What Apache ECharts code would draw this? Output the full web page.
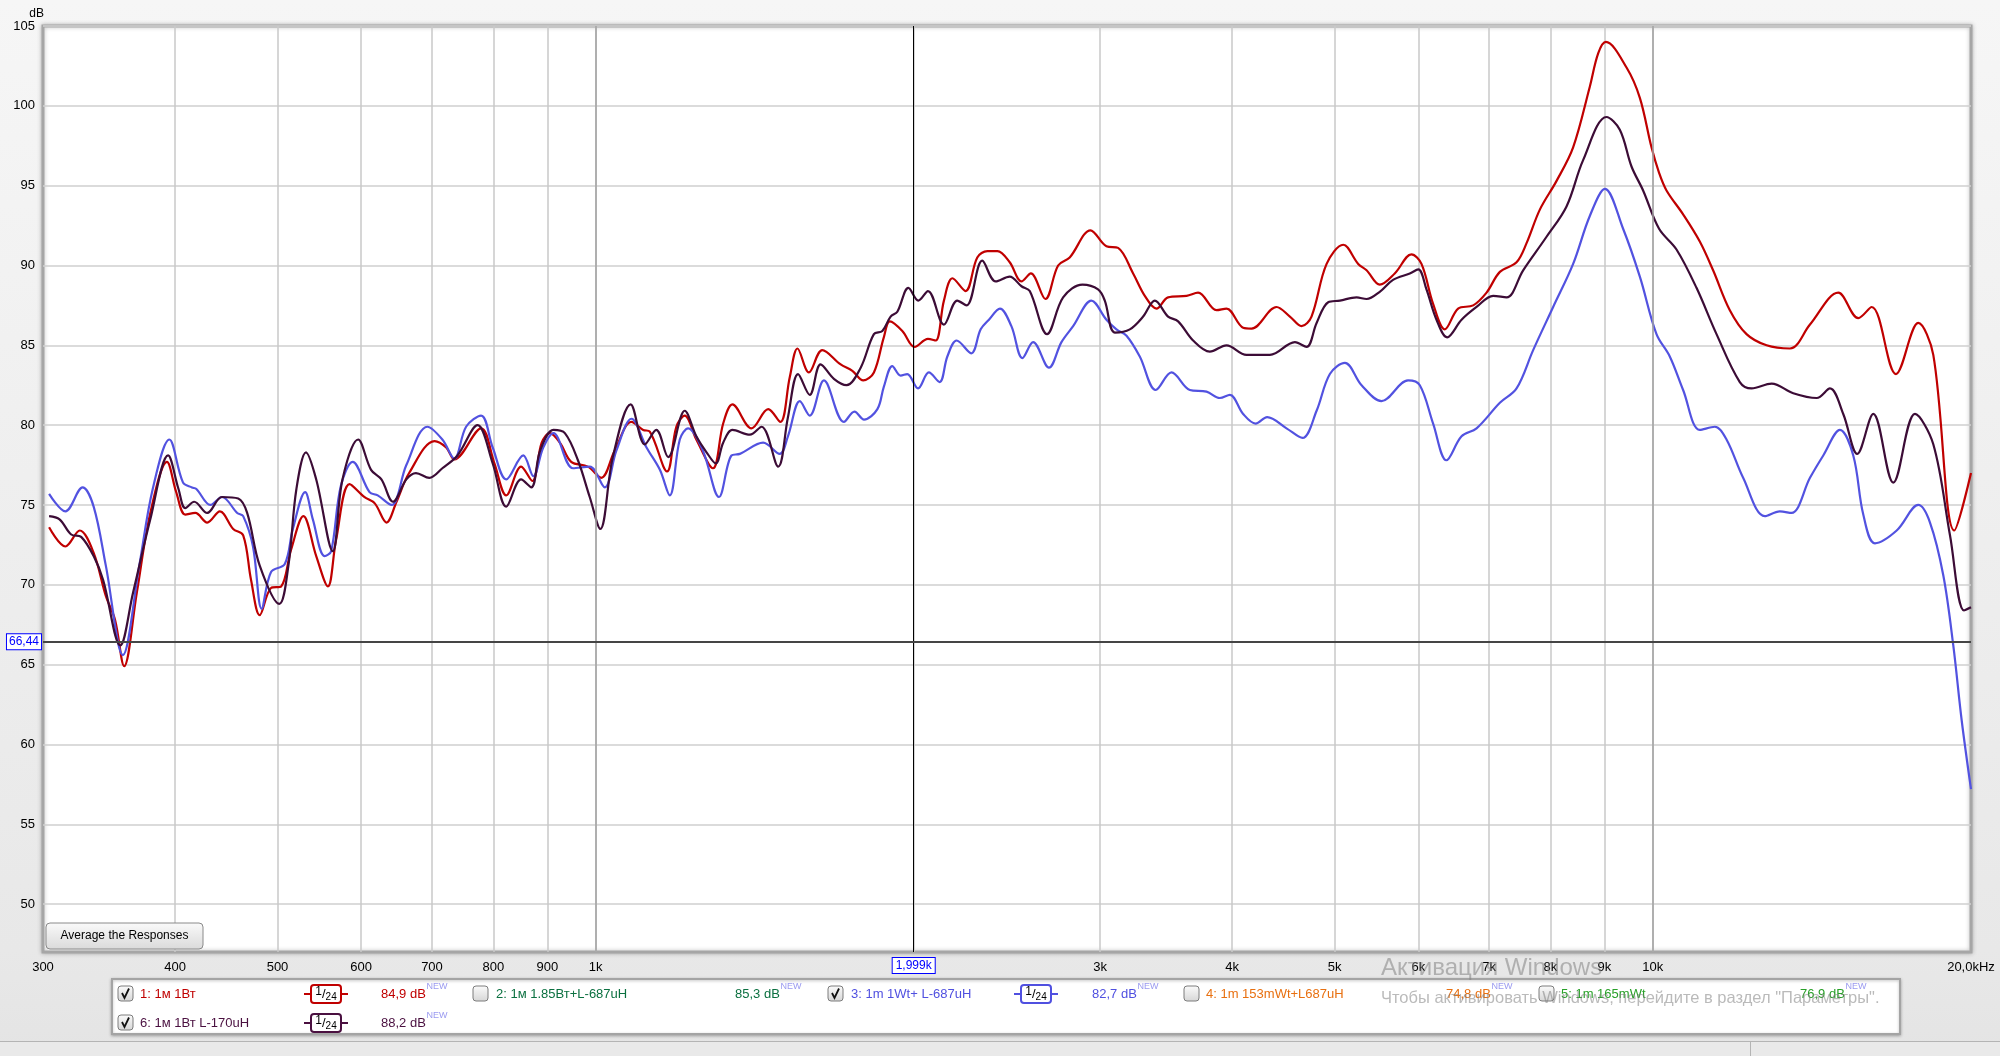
<!DOCTYPE html>
<html>
<head>
<meta charset="utf-8">
<script src="https://cdn.jsdelivr.net/npm/echarts@6/dist/echarts.min.js"></script>
<style>
html,body{margin:0;padding:0;background:#ececec;}
#chart{width:2000px;height:1056px;}
</style>
</head>
<body>
<div id="chart"></div>
<script>
const FONT = '"Liberation Sans", Arial, sans-serif';

// ---- data: trace 1 (red) ----
const redFreq = [304,315,325,335,344,351,358,368,379,393,401,409,418,429,441,454,464,472,481,493,504,515,529,544,558,568,585,604,618,634,648,666,704,722,735,779,802,823,850,871,889,905,925,948,983,1012,1042,1081,1109,1125,1168,1192,1214,1245,1291,1320,1347,1404,1456,1495,1526,1552,1591,1638,1705,1749,1791,1833,1873,1898,1950,2003,2062,2097,2135,2175,2238,2296,2347,2399,2464,2528,2580,2663,2738,2808,2938,3042,3120,3224,3307,3392,3479,3622,3714,3866,3951,4097,4173,4406,4536,4653,4755,4914,5095,5264,5361,5517,5700,5912,6042,6197,6357,6544,6762,6962,7167,7432,7596,7819,8109,8407,8718,8880,9028,9444,9722,9972,10138,10303,10683,11078,11404,11827,12265,12812,13482,14083,14979,15646,16109,16984,17830,18423,19285,20000];
const redDb = [73.6,72.4,73.4,72.0,69.3,67.8,64.9,69.5,74.5,77.7,75.8,74.4,74.5,73.9,74.6,73.5,73.1,70.3,68.1,69.8,69.9,72.2,74.3,71.8,69.9,72.8,76.3,75.5,75.1,73.9,75.2,77.0,79.0,78.6,77.85,79.8,77.6,75.6,77.4,76.5,78.9,79.5,78.9,77.7,77.4,76.7,78.4,80.2,79.7,79.6,77.1,79.9,80.6,79.1,77.3,80.1,81.3,79.8,81.0,80.2,83.0,84.8,83.3,84.7,83.8,83.4,82.8,83.3,85.5,86.5,85.9,84.9,85.4,85.3,87.8,89.2,88.4,90.5,90.9,90.9,90.2,89.0,89.5,87.9,90.0,90.5,92.2,91.2,91.1,89.5,88.1,87.3,88.0,88.1,88.3,87.2,87.3,86.1,86.05,87.4,86.8,86.2,86.8,90.1,91.3,90.1,89.7,88.8,89.5,90.7,90.1,87.6,86.0,87.3,87.5,88.3,89.6,90.2,91.4,93.5,95.3,97.4,101.2,103.3,104.0,102.4,100.5,97.4,95.8,94.7,93.2,91.5,89.7,87.2,85.7,85.0,84.8,86.3,88.3,86.7,87.4,83.2,86.4,84.4,73.4,77.0];

// ---- data: trace 3 (blue) ----
const blueFreq = [304,315,327,335,344,357,370,381,395,407,415,419,432,443,458,464,474,483,493,508,517,531,540,554,562,574,589,611,622,641,662,693,716,735,754,779,799,823,854,873,892,912,952,987,1020,1046,1081,1117,1150,1175,1201,1223,1263,1308,1344,1369,1440,1493,1520,1560,1594,1644,1717,1757,1794,1847,1873,1908,1943,1971,2018,2066,2115,2151,2195,2266,2313,2355,2412,2473,2533,2593,2684,2758,2829,2944,3042,3109,3178,3271,3387,3505,3648,3783,3894,3980,4097,4210,4317,4503,4663,4808,4949,5114,5303,5538,5868,6020,6197,6380,6593,6812,7167,7432,7706,8049,8407,8718,9010,9374,9722,10081,10377,10683,11078,11447,11742,12175,12764,13188,13529,14083,14497,15034,15476,15817,16225,17011,17830,18291,18828,19243,19599,20000];
const blueDb = [75.7,74.6,76.1,74.9,71.2,65.6,71.2,76.0,79.1,76.4,76.1,76.0,75.0,75.5,74.5,74.3,72.4,68.5,70.8,71.3,73.5,75.8,74.1,71.8,72.1,76.2,77.7,75.8,75.6,75.0,77.5,79.9,79.1,77.9,79.9,80.6,78.6,76.6,78.1,76.8,78.6,79.5,77.3,77.4,76.1,78.4,80.4,78.6,77.2,75.6,79.1,79.8,78.4,75.5,78.1,78.2,78.9,78.2,79.3,81.5,80.6,82.8,80.2,80.85,80.35,81.0,82.4,83.7,83.1,83.2,82.3,83.3,82.7,84.3,85.3,84.5,86.0,86.6,87.3,86.2,84.2,85.2,83.6,85.2,86.2,87.8,86.6,86.0,85.6,84.3,82.2,83.3,82.2,82.1,81.7,81.9,80.7,80.1,80.5,79.8,79.2,80.9,83.2,83.9,82.5,81.5,82.8,82.5,80.1,77.8,79.3,79.8,81.4,82.3,84.7,87.4,90.1,93.1,94.8,92.3,89.3,85.7,84.3,82.2,79.7,79.9,79.1,76.7,74.3,74.6,74.5,76.7,78.1,79.7,78.1,74.4,72.6,73.4,75.0,73.9,70.6,66.2,61.5,57.2];

// ---- data: trace 6 (dark) ----
const darkFreq = [304,311,319,326,335,342,355,365,379,394,403,409,417,429,443,459,468,481,502,512,521,532,544,564,576,596,613,627,643,662,676,696,716,740,773,799,823,850,869,886,912,935,962,987,1010,1038,1079,1113,1141,1171,1214,1245,1273,1299,1320,1347,1399,1435,1488,1520,1554,1594,1632,1680,1727,1781,1833,1867,1901,1929,1976,2019,2062,2135,2198,2243,2321,2390,2464,2528,2574,2673,2768,2887,2987,3031,3098,3201,3295,3380,3479,3556,3674,3810,3951,4127,4343,4586,4704,4808,4931,5058,5245,5361,5517,5679,5890,6000,6108,6243,6389,6593,6812,7063,7272,7540,7934,8287,8592,9041,9307,9547,9791,10138,10530,10999,11489,12087,12400,12955,13579,14289,14709,15142,15611,16165,16885,17703,18423,19105,19697,20000];
const darkDb = [74.3,74.1,73.15,73.0,71.8,70.3,66.2,69.5,74.1,78.1,76.0,74.8,75.2,74.5,75.5,75.4,74.5,71.2,68.8,71.2,76.0,78.3,76.6,72.1,76.6,79.1,77.2,76.6,75.2,76.6,77.0,76.7,77.3,78.1,80.0,77.6,74.9,76.6,76.1,78.4,79.7,79.5,77.8,75.5,73.5,78.0,81.3,78.8,79.7,78.0,80.9,79.3,78.3,77.6,78.9,79.7,79.4,79.9,77.4,80.5,83.2,81.9,83.8,82.9,82.5,83.6,85.7,85.9,86.8,87.1,88.6,87.8,88.4,86.3,87.8,87.5,90.3,89.0,89.3,88.7,88.4,85.7,88.0,88.8,88.5,87.8,85.8,86.0,86.8,87.8,86.8,86.5,85.3,84.6,85.0,84.4,84.4,85.2,84.9,86.4,87.7,87.8,88.0,87.9,88.35,89.1,89.5,89.75,88.5,86.6,85.5,86.6,87.4,88.1,88.0,89.7,91.8,93.7,96.6,99.3,98.5,96.2,94.7,92.3,91.0,88.6,85.7,82.7,82.3,82.6,82.0,81.7,82.3,80.7,78.2,80.7,76.4,80.7,78.8,73.1,68.4,68.6];

// ---- axes ----
const xGridValues = [400,500,600,700,800,900,1000,2000,3000,4000,5000,6000,7000,8000,9000,10000];
const xLabelValues = [300,400,500,600,700,800,900,1000,3000,4000,5000,6000,7000,8000,9000,10000,20000];
const xLabelTexts = ['300','400','500','600','700','800','900','1k','3k','4k','5k','6k','7k','8k','9k','10k','20,0kHz'];
const yTickValues = [50,55,60,65,70,75,80,85,90,95,100,105];
const majorFreqs = [1000, 10000];
const cursorFreq = 1999;
const cursorDb = 66.44;

// ---- legend text ----
const legendLabels = ['1: 1м 1Вт','2: 1м 1.85Вт+L-687uH','3: 1m 1Wt+ L-687uH','4: 1m 153mWt+L687uH','5: 1m 165mWt','6: 1м 1Вт L-170uH'];
const legendLevels = ['84,9 dB','85,3 dB','82,7 dB','74,8 dB','76,9 dB','88,2 dB'];
const legendColors = ['#c00000','#0b7040','#5050e0','#e87010','#28a028','#4a1040'];
const legendChecked = [true,false,true,false,false,true];
const legendSmoothing = ['1/24',null,'1/24',null,null,'1/24'];

const RED = '#c00000', BLUE = '#5252e0', DARK = '#3c0c36';

function pairs(f, d) { return f.map((v, i) => [v, d[i]]); }

// layout slots for the legend panel
const slots = [
  {cb:118, row:0, label:140, badge:304, level:381},
  {cb:473, row:0, label:496, badge:null, level:735},
  {cb:828, row:0, label:851, badge:1014, level:1092},
  {cb:1184, row:0, label:1206, badge:null, level:1446},
  {cb:1539, row:0, label:1561, badge:null, level:1800},
  {cb:118, row:1, label:140, badge:304, level:381}
];
const rowY = [994, 1023];

const graphics = [];
graphics.push({type:'rect', z:-100, silent:true, shape:{x:0,y:0,width:2000,height:1056},
  style:{fill:{type:'linear',x:0,y:0,x2:0,y2:1,colorStops:[{offset:0,color:'#f6f6f6'},{offset:0.9,color:'#e8e8e8'},{offset:1,color:'#e4e4e4'}]}}});
graphics.push({type:'rect', z:-99, silent:true, shape:{x:0,y:1041,width:2000,height:15}, style:{fill:'#e9e9e9'}});
graphics.push({type:'line', z:-98, silent:true, shape:{x1:0,y1:1041.5,x2:2000,y2:1041.5}, style:{stroke:'#b4b4b4',lineWidth:1}});
graphics.push({type:'line', z:-98, silent:true, shape:{x1:1750.5,y1:1042,x2:1750.5,y2:1056}, style:{stroke:'#b4b4b4',lineWidth:1}});

graphics.push({type:'rect', z:10, silent:true, shape:{x:112,y:979,width:1788,height:55},
  style:{fill:'#ffffff', stroke:'#a4a4a4', lineWidth:2, shadowBlur:3, shadowColor:'rgba(0,0,0,0.25)', shadowOffsetY:1}});

function checkbox(x, y, checked) {
  const out = [{type:'rect', z:11, silent:true, shape:{x:x,y:y,width:15,height:15,r:3},
    style:{fill:{type:'linear',x:0,y:0,x2:0,y2:1,colorStops:[{offset:0,color:'#fbfbfb'},{offset:1,color:'#d6d6d6'}]}, stroke:'#7c7c7c', lineWidth:1}}];
  if (checked) {
    out.push({type:'polyline', z:12, silent:true, shape:{points:[[x+4,y+7],[x+6.5,y+12],[x+11,y+2.5]]},
      style:{stroke:'#111', lineWidth:1.8, fill:null}});
  }
  return out;
}
function badge(x, yc, color) {
  return [
    {type:'line', z:11, silent:true, shape:{x1:x,y1:yc,x2:x+7,y2:yc}, style:{stroke:color,lineWidth:2}},
    {type:'line', z:11, silent:true, shape:{x1:x+37,y1:yc,x2:x+44,y2:yc}, style:{stroke:color,lineWidth:2}},
    {type:'rect', z:11, silent:true, shape:{x:x+7,y:yc-9,width:30,height:18,r:3}, style:{fill:'#fff', stroke:color, lineWidth:2}},
    {type:'text', z:12, silent:true, x:x+22, y:yc, style:{text:'{a|1}{s|/}{b|24}', align:'center', verticalAlign:'middle',
      rich:{a:{fontSize:12,fontFamily:FONT,fill:'#000',verticalAlign:'top',lineHeight:16},
            s:{fontSize:13,fontFamily:FONT,fill:'#000',lineHeight:16},
            b:{fontSize:10,fontFamily:FONT,fill:'#000',verticalAlign:'bottom',lineHeight:16}}}}
  ];
}
legendLabels.forEach((lab, i) => {
  const s = slots[i], yc = rowY[s.row];
  checkbox(s.cb, yc - 8, legendChecked[i]).forEach(g => graphics.push(g));
  graphics.push({type:'text', z:12, silent:true, x:s.label, y:yc, style:{text:lab, fill:legendColors[i], fontSize:13, fontFamily:FONT, verticalAlign:'middle'}});
  if (legendSmoothing[i] && s.badge !== null) badge(s.badge, yc, legendColors[i]).forEach(g => graphics.push(g));
  graphics.push({type:'text', z:12, silent:true, x:s.level, y:yc, style:{text:legendLevels[i], fill:legendColors[i], fontSize:13, fontFamily:FONT, verticalAlign:'middle'}});
  graphics.push({type:'text', z:12, silent:true, x:s.level + 45.5, y:yc - 7, style:{text:'NEW', fill:'#9a9af0', fontSize:9, fontFamily:FONT, verticalAlign:'middle'}});
});

graphics.push({type:'rect', z:20, silent:true, shape:{x:46,y:923,width:157,height:26,r:4},
  style:{fill:{type:'linear',x:0,y:0,x2:0,y2:1,colorStops:[{offset:0,color:'#fafafa'},{offset:1,color:'#dadada'}]}, stroke:'#8a8a8a', lineWidth:1}});
graphics.push({type:'text', z:21, silent:true, x:124.5, y:936, style:{text:'Average the Responses', fill:'#000', fontSize:12, fontFamily:FONT, align:'center', verticalAlign:'middle'}});

graphics.push({type:'text', z:30, silent:true, x:1381, y:968, style:{text:'Активация Windows', fill:'rgba(130,130,130,0.55)', fontSize:24, fontFamily:FONT, verticalAlign:'middle'}});
graphics.push({type:'text', z:30, silent:true, x:1381, y:998, style:{text:'Чтобы активировать Windows, перейдите в раздел "Параметры".', fill:'rgba(130,130,130,0.55)', fontSize:16.5, fontFamily:FONT, verticalAlign:'middle'}});

const chart = echarts.init(document.getElementById('chart'), null, {renderer:'canvas'});

const lineBase = {type:'line', smooth:0.35, showSymbol:false, symbol:'none', silent:true, animation:false, clip:true};

const option = {
  animation: false,
  backgroundColor: '#ececec',
  grid: {left:43, right:29, top:26, bottom:104, show:true, backgroundColor:'#ffffff', borderColor:'#a6a6a6', borderWidth:3,
         shadowBlur:4, shadowColor:'rgba(0,0,0,0.25)', containLabel:false},
  xAxis: {
    type:'log', logBase:10, min:300, max:20000,
    axisLine:{show:false},
    axisTick:{show:false, customValues: xGridValues},
    axisLabel:{customValues: xLabelValues, color:'#000', fontSize:13, fontFamily:FONT, margin:9,
      formatter: v => { const i = xLabelValues.findIndex(t => Math.abs(t - v) < 1e-6 * t); return i >= 0 ? xLabelTexts[i] : ''; }},
    splitLine:{show:true, lineStyle:{color:'#c9c9c9', width:1.5}}
  },
  yAxis: {
    type:'value', min:47, max:105,
    name:'dB', nameLocation:'end', nameGap:5,
    nameTextStyle:{color:'#000', fontSize:12, fontFamily:FONT, align:'right', padding:[0,-1,0,0]},
    axisLine:{show:false},
    axisTick:{show:false, customValues: yTickValues},
    axisLabel:{customValues: yTickValues, color:'#000', fontSize:13, fontFamily:FONT, margin:8},
    splitLine:{show:true, lineStyle:{color:'#cfcfcf', width:1.5}}
  },
  graphic: {elements: graphics},
  series: [
    Object.assign({}, lineBase, {name:'grid-major', data:[], z:1,
      markLine:{silent:true, symbol:'none', animation:false, label:{show:false},
        lineStyle:{color:'#a2a2a2', width:1.5, type:'solid'},
        data: majorFreqs.map(f => ({xAxis:f}))}}),
    Object.assign({}, lineBase, {name:'cursor', data:[], z:2,
      markLine:{silent:true, symbol:'none', animation:false,
        data:[
          {xAxis:cursorFreq, lineStyle:{color:'#000', width:1, type:'solid'},
           label:{show:true, position:'start', distance:6, formatter:(cursorFreq/1000).toFixed(3).replace('.', ',') + 'k',
             color:'#0000ff', fontSize:12, fontFamily:FONT, backgroundColor:'#fff', borderColor:'#0000ff', borderWidth:1, padding:[2,3,1,3]}},
          {yAxis:cursorDb, lineStyle:{color:'#454545', width:2, type:'solid'},
           label:{show:true, position:'start', distance:2, formatter:cursorDb.toFixed(2).replace('.', ','),
             color:'#0000ff', fontSize:12, fontFamily:FONT, backgroundColor:'#fff', borderColor:'#0000ff', borderWidth:1, padding:[2,2,1,2]}}
        ]}}),
    Object.assign({}, lineBase, {name:legendLabels[0], data:pairs(redFreq, redDb), z:3, lineStyle:{color:RED, width:2.2}, itemStyle:{color:RED}}),
    Object.assign({}, lineBase, {name:legendLabels[2], data:pairs(blueFreq, blueDb), z:3, lineStyle:{color:BLUE, width:2.2}, itemStyle:{color:BLUE}}),
    Object.assign({}, lineBase, {name:legendLabels[5], data:pairs(darkFreq, darkDb), z:3, lineStyle:{color:DARK, width:2.2}, itemStyle:{color:DARK}})
  ]
};
chart.setOption(option);
</script>
</body>
</html>
